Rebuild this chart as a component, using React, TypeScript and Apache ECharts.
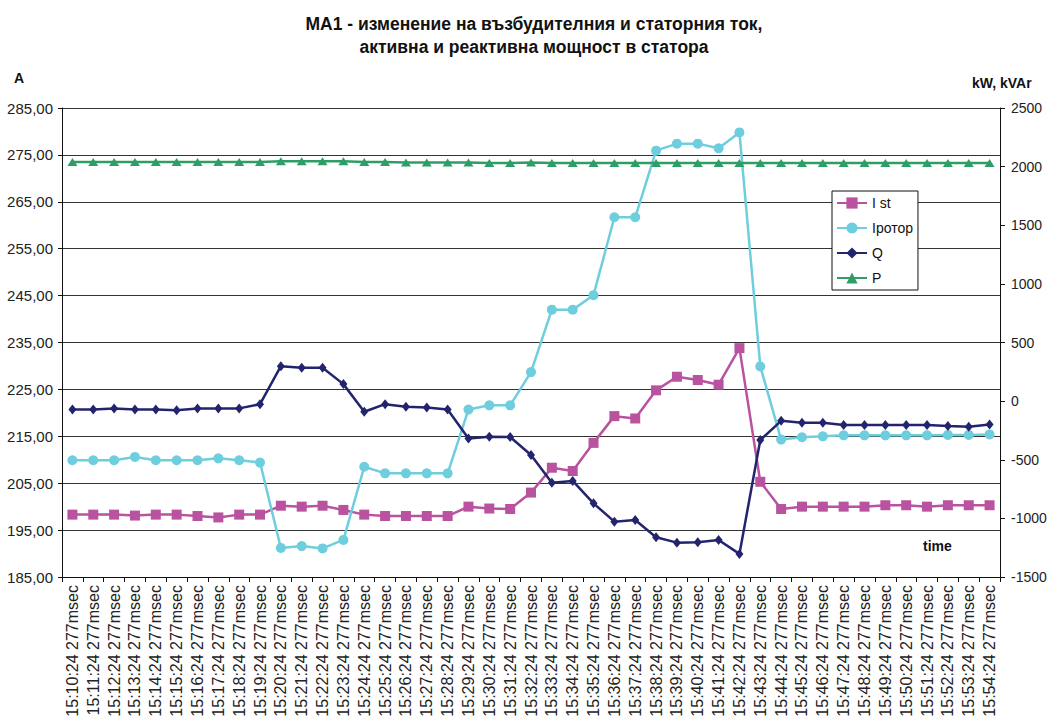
import React, { useEffect, useRef } from "react";
import * as echarts from "echarts";

const categories = [
  "15:10:24 277msec", "15:11:24 277msec", "15:12:24 277msec", "15:13:24 277msec", "15:14:24 277msec",
  "15:15:24 277msec", "15:16:24 277msec", "15:17:24 277msec", "15:18:24 277msec", "15:19:24 277msec",
  "15:20:24 277msec", "15:21:24 277msec", "15:22:24 277msec", "15:23:24 277msec", "15:24:24 277msec",
  "15:25:24 277msec", "15:26:24 277msec", "15:27:24 277msec", "15:28:24 277msec", "15:29:24 277msec",
  "15:30:24 277msec", "15:31:24 277msec", "15:32:24 277msec", "15:33:24 277msec", "15:34:24 277msec",
  "15:35:24 277msec", "15:36:24 277msec", "15:37:24 277msec", "15:38:24 277msec", "15:39:24 277msec",
  "15:40:24 277msec", "15:41:24 277msec", "15:42:24 277msec", "15:43:24 277msec", "15:44:24 277msec",
  "15:45:24 277msec", "15:46:24 277msec", "15:47:24 277msec", "15:48:24 277msec", "15:49:24 277msec",
  "15:50:24 277msec", "15:51:24 277msec", "15:52:24 277msec", "15:53:24 277msec", "15:54:24 277msec",
];

const iSt = [
  198.3, 198.3, 198.3, 198.1, 198.3, 198.3, 198.0, 197.7, 198.3, 198.3,
  200.2, 200.0, 200.2, 199.3, 198.3, 198.0, 198.0, 198.0, 198.0, 200.0,
  199.6, 199.5, 203.0, 208.3, 207.6, 213.6, 219.3, 218.8, 224.8, 227.7,
  227.0, 226.0, 233.8, 205.3, 199.5, 200.0, 200.0, 200.0, 200.0, 200.3,
  200.3, 200.0, 200.3, 200.3, 200.3,
];

const iRotor = [
  209.9, 209.9, 209.9, 210.6, 209.9, 209.9, 209.9, 210.3, 209.9, 209.4,
  191.2, 191.6, 191.1, 192.9, 208.5, 207.1, 207.1, 207.1, 207.1, 220.7,
  221.6, 221.6, 228.7, 242.0, 242.0, 245.1, 261.7, 261.7, 275.9, 277.4,
  277.4, 276.4, 279.8, 229.9, 214.3, 214.8, 215.0, 215.2, 215.2, 215.2,
  215.2, 215.2, 215.3, 215.3, 215.4,
];

const qValues = [
  -71, -71, -62, -71, -71, -77, -62, -62, -62, -26,
  298, 284, 284, 145, -91, -26, -48, -54, -71, -318,
  -304, -306, -460, -696, -681, -872, -1028, -1014, -1161, -1207,
  -1204, -1184, -1303, -332, -168, -185, -185, -204, -204, -204,
  -204, -204, -213, -218, -199,
];

const pValues = [
  2040, 2040, 2040, 2040, 2040, 2040, 2040, 2040, 2040, 2040,
  2045, 2045, 2045, 2045, 2040, 2040, 2035, 2035, 2035, 2035,
  2030, 2030, 2035, 2030, 2030, 2030, 2030, 2030, 2030, 2030,
  2030, 2030, 2030, 2030, 2030, 2030, 2030, 2030, 2030, 2030,
  2030, 2030, 2030, 2030, 2030,
];

const leftTicks = [185, 195, 205, 215, 225, 235, 245, 255, 265, 275, 285];

const titleLines = [
  "MA1 - изменение на възбудителния и статорния ток,",
  "активна и реактивна мощност в статора",
];

const FONT = "'Liberation Sans', Arial, sans-serif";

export default function App() {
  const ref = useRef<HTMLDivElement>(null);

  useEffect(() => {
    if (!ref.current) return;
    const chart = echarts.init(ref.current, undefined, { renderer: "svg" });
    const seriesCommon = {
      type: "line" as const,
      z: 3,
    };
    chart.setOption({
      animation: false,
      backgroundColor: "#ffffff",
      textStyle: { fontFamily: FONT },
      title: {
        text: titleLines.join("\n"),
        left: 529,
        textAlign: "center",
        top: 7,
        textStyle: {
          fontFamily: FONT,
          fontSize: 17.5,
          fontWeight: "bold",
          color: "#111",
          lineHeight: 23,
        },
      },
      legend: {
        orient: "vertical",
        left: 832,
        top: 191,
        padding: [5, 5, 5, 4],
        itemWidth: 30,
        itemHeight: 14,
        itemGap: 11,
        borderColor: "#111",
        borderWidth: 1,
        backgroundColor: "#fff",
        textStyle: { fontSize: 14, color: "#111", fontFamily: FONT },
        data: ["I st", "Iротор", "Q", "P"],
      },
      grid: { left: 62, right: 52, top: 108, bottom: 149, containLabel: false },
      xAxis: {
        type: "category",
        data: categories,
        boundaryGap: true,
        axisLine: { show: true, onZero: false, lineStyle: { color: "#111", width: 1 } },
        axisTick: { show: true, interval: 0, length: 5, lineStyle: { color: "#111" } },
        axisLabel: {
          interval: 0,
          rotate: 90,
          fontSize: 16,
          color: "#222",
          margin: 8,
          fontFamily: FONT,
        },
        splitLine: { show: false },
      },
      yAxis: [
        {
          type: "value",
          min: 185,
          max: 285,
          position: "left",
          axisLine: { show: true, onZero: false, lineStyle: { color: "#111", width: 1 } },
          axisTick: { show: true, length: 4, customValues: leftTicks, lineStyle: { color: "#111" } },
          axisLabel: {
            customValues: leftTicks,
            fontSize: 15,
            color: "#222",
            margin: 9,
            fontFamily: FONT,
            formatter: (v: number) => v.toFixed(2).replace(".", ","),
          },
          splitLine: { show: true, lineStyle: { color: "#333", width: 1 } },
        },
        {
          type: "value",
          min: -1500,
          max: 2500,
          interval: 500,
          position: "right",
          axisLine: { show: true, onZero: false, lineStyle: { color: "#111", width: 1 } },
          axisTick: { show: true, length: 5, lineStyle: { color: "#111" } },
          axisLabel: {
            fontSize: 14,
            color: "#222",
            margin: 11,
            fontFamily: FONT,
            formatter: (v: number) => String(v),
          },
          splitLine: { show: false },
        },
      ],
      graphic: [
        {
          type: "text",
          left: 14,
          top: 71,
          style: { text: "A", font: `bold 14px ${FONT}`, fill: "#111" },
        },
        {
          type: "text",
          left: 972,
          top: 76,
          style: { text: "kW, kVAr", font: `bold 14px ${FONT}`, fill: "#111" },
        },
        {
          type: "text",
          left: 923,
          top: 539,
          style: { text: "time", font: `bold 14px ${FONT}`, fill: "#111" },
        },
      ],
      series: [
        {
          ...seriesCommon,
          name: "I st",
          yAxisIndex: 0,
          data: iSt,
          symbol: "rect",
          symbolSize: 10,
          itemStyle: { color: "#B9529F" },
          lineStyle: { width: 2.5, color: "#B9529F" },
        },
        {
          ...seriesCommon,
          name: "Iротор",
          yAxisIndex: 0,
          data: iRotor,
          symbol: "circle",
          symbolSize: 10,
          itemStyle: { color: "#6ECEDE" },
          lineStyle: { width: 2.5, color: "#6ECEDE" },
        },
        {
          ...seriesCommon,
          name: "Q",
          yAxisIndex: 1,
          data: qValues,
          symbol: "diamond",
          symbolSize: [8, 10],
          itemStyle: { color: "#22246E" },
          lineStyle: { width: 2.5, color: "#22246E" },
        },
        {
          ...seriesCommon,
          name: "P",
          yAxisIndex: 1,
          data: pValues,
          symbol: "triangle",
          symbolSize: [10, 8],
          itemStyle: { color: "#2E9E66" },
          lineStyle: { width: 2.5, color: "#2E9E66" },
        },
      ],
    });
    return () => chart.dispose();
  }, []);

  return (
    <div
      ref={ref}
      style={{ position: "fixed", left: 0, top: 0, width: 1052, height: 726 }}
    />
  );
}
